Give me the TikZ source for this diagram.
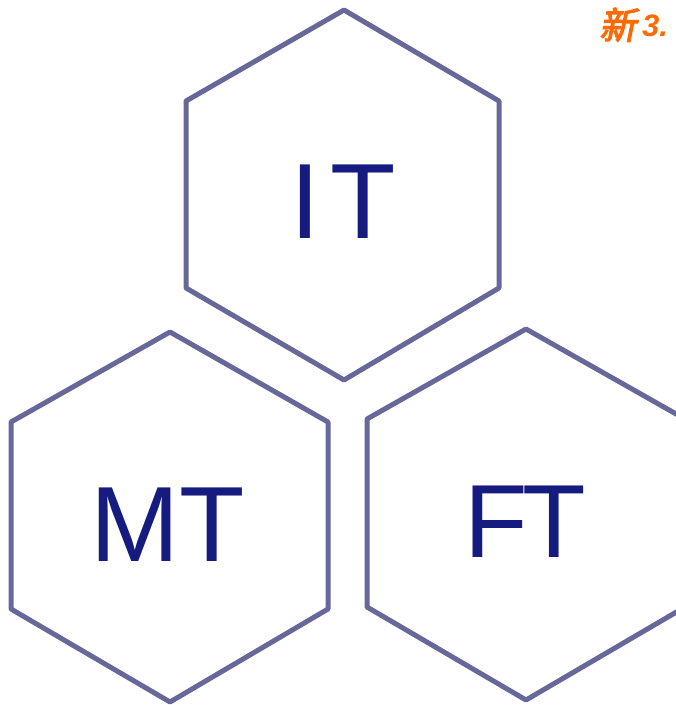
\documentclass[tikz,border=0pt]{standalone}
\usepackage{fontspec}
\setmainfont{Liberation Sans}
\newfontfamily\cjkbold[FakeSlant=0.2,FakeBold=3]{Noto Sans CJK SC}
\definecolor{hexline}{HTML}{67679A}
\definecolor{hextext}{HTML}{161B80}
\definecolor{tagorange}{HTML}{FF6A00}
\begin{document}
\begin{tikzpicture}[x=1pt,y=-1pt,
  hexa/.style={draw=hexline,line width=5pt,line join=round},
  hexlabel/.style={text=hextext,font=\fontsize{107}{107}\selectfont,anchor=base,inner sep=0pt},
  tagtext/.style={text=tagorange,anchor=base west,inner sep=0pt}]
\useasboundingbox (0,0) rectangle (676,705);
% IT hexagon
\draw[hexa] (344,10) -- (499,101) -- (499,288) -- (344,380) -- (186,288) -- (186,101) -- cycle;
% MT hexagon
\draw[hexa] (170,332) -- (328,422) -- (328,609) -- (170,702) -- (11,609) -- (11,422) -- cycle;
% FT hexagon
\draw[hexa] (526,329) -- (685,419) -- (685,607) -- (526,700) -- (367,607) -- (367,419) -- cycle;
\node[hexlabel] (it) at (343,238) {I\kern0.1em T};
\node[hexlabel] (mt) at (168,561) {MT};
\node[hexlabel,font=\fontsize{104}{104}\selectfont] (ft) at (525,557) {F\kern-0.05em T};
\node[tagtext,font=\cjkbold\fontsize{37}{37}\selectfont] (tagcjk) at (599,39) {新};
\node[tagtext,font=\bfseries\itshape\fontsize{31}{31}\selectfont] (tagnum) at (642,36) {3.};
\end{tikzpicture}
\end{document}
